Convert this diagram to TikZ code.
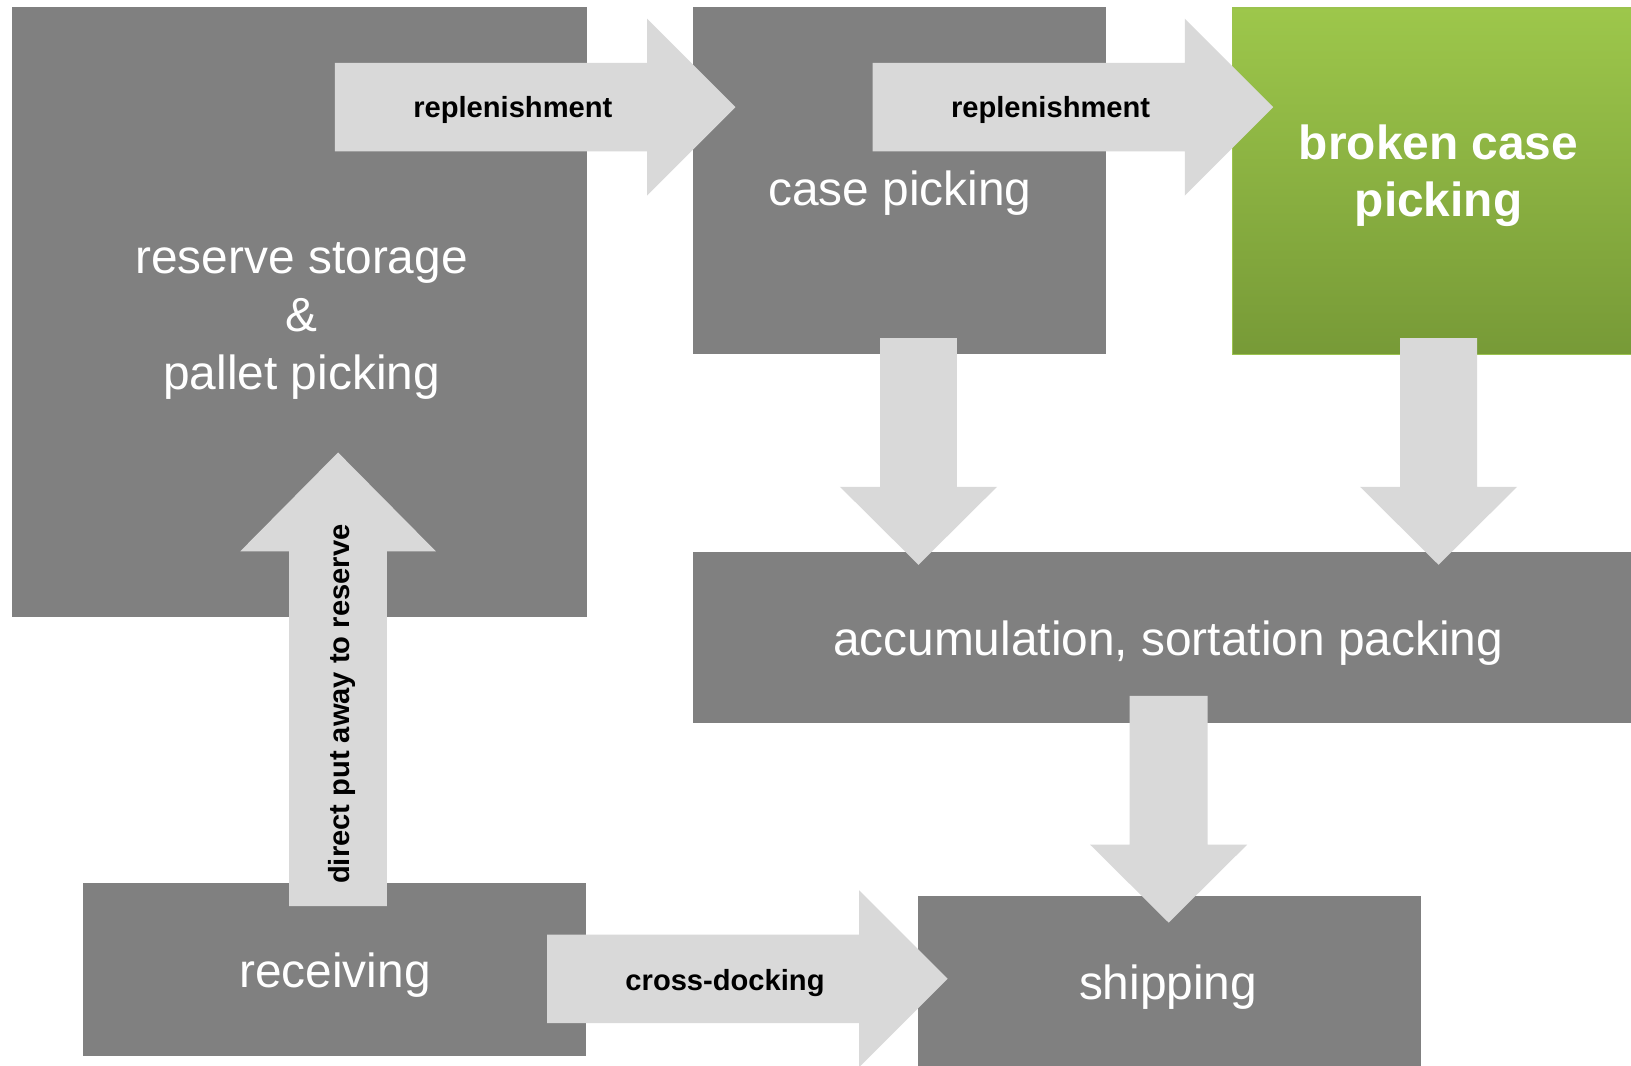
\documentclass[tikz,border=0pt]{standalone}
\usepackage{fontspec}
\setmainfont{Liberation Sans}
\definecolor{boxgray}{HTML}{808080}
\definecolor{arrowcol}{HTML}{D9D9D9}
\definecolor{greentop}{HTML}{9DC74B}
\definecolor{greenbot}{HTML}{779A37}
\definecolor{greenline}{HTML}{9BC34E}
\newcommand\rarrow[6]{\fill[arrowcol] ({#1},{#4-#5}) -- ({#2},{#4-#5}) -- ({#2},{#4-#6}) -- ({#3},{#4}) -- ({#2},{#4+#6}) -- ({#2},{#4+#5}) -- ({#1},{#4+#5}) -- cycle;}
\newcommand\varrow[6]{\fill[arrowcol] ({#4-#5},{#1}) -- ({#4-#5},{#2}) -- ({#4-#6},{#2}) -- ({#4},{#3}) -- ({#4+#6},{#2}) -- ({#4+#5},{#2}) -- ({#4+#5},{#1}) -- cycle;}
\tikzset{
  box/.style={fill=boxgray, inner sep=0pt, anchor=north west},
  boxtext/.style={text=white, anchor=base, align=center, inner sep=0pt, font=\fontsize{46}{55.5}\selectfont},
  arrtext/.style={text=black, anchor=base, inner sep=0pt, font=\fontsize{28}{33}\selectfont\bfseries},
}
\begin{document}
\begin{tikzpicture}[x=1pt, y=-1pt]
\useasboundingbox (0,0) rectangle (1568,1024);
\fill[white] (0,0) rectangle (1568,1024);
% boxes
\node[box, minimum width=553pt, minimum height=586pt] (reserve) at (11,7) {};
\node[box, minimum width=397pt, minimum height=333pt] (case) at (666,7) {};
\node[box, fill=none, top color=greentop, bottom color=greenbot, draw=greenline, line width=1.5pt, minimum width=400pt, minimum height=333pt] (broken) at (1184,7) {};
\node[box, minimum width=915pt, minimum height=165pt] (accum) at (666,530) {};
\node[box, minimum width=483pt, minimum height=166pt] (receiving) at (80,849) {};
\node[box, minimum width=484pt, minimum height=175pt] (shipping) at (882,861) {};
% box texts
\node[boxtext] (reservetxt) at (290,374) {reserve storage\\\&\\pallet picking};
\node[boxtext] (casetxt) at (865,198) {case picking};
\node[boxtext, font=\fontsize{46}{55}\selectfont\bfseries] (brokentxt) at (1383,208) {broken case\\picking};
\node[boxtext] (accumtxt) at (1123,630) {accumulation, sortation packing};
\node[boxtext] (receivingtxt) at (322,949) {receiving};
\node[boxtext] (shippingtxt) at (1123,961) {shipping};
% arrows
\rarrow{322}{622}{707}{103}{42.5}{85}
\rarrow{839}{1139}{1224}{103}{42.5}{85}
\rarrow{526}{826}{911}{941}{42.5}{85}
\varrow{325}{468}{543}{883}{37}{75.5}
\varrow{325}{468}{543}{1383}{37}{75.5}
\varrow{669}{812}{887}{1123.5}{37.5}{75.5}
\varrow{871}{530}{435}{325}{47}{94}
% arrow labels
\node[arrtext] (rep1) at (493,113) {replenishment};
\node[arrtext] (rep2) at (1010,113) {replenishment};
\node[arrtext] (cross) at (697,952) {cross-docking};
\node[arrtext, rotate=90] (direct) at (336,677) {direct put away to reserve};
\end{tikzpicture}
\end{document}
